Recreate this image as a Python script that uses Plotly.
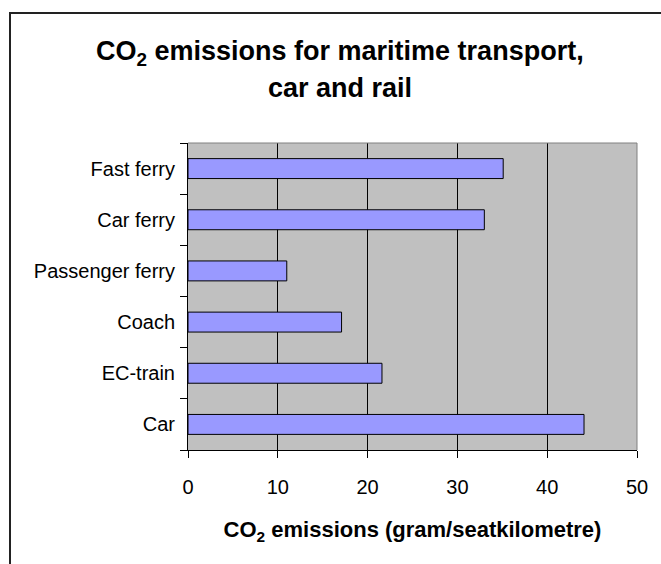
import plotly.graph_objects as go

modes = ["Car", "EC-train", "Coach", "Passenger ferry", "Car ferry", "Fast ferry"]
co2 = [44.1, 21.6, 17.1, 11.0, 33.0, 35.1]
x_ticks = [0, 10, 20, 30, 40, 50]

W, H = 661, 564
L, R, T, B = 188, 24, 143, 114
pw, ph = W - L - R, H - T - B


def px_x(p):
    return (p - L) / pw


def px_y(p):
    return (H - B - p) / ph


font = "Liberation Sans, Arial, sans-serif"

fig = go.Figure()
fig.add_trace(go.Bar(
    x=co2, y=modes, orientation="h",
    marker=dict(color="#9999FF", line=dict(color="black", width=1)),
    hoverinfo="x+y",
))

fig.update_layout(
    width=W, height=H,
    margin=dict(l=L, r=R, t=T, b=B),
    paper_bgcolor="white",
    plot_bgcolor="#C0C0C0",
    bargap=0.61,
    showlegend=False,
    font=dict(family=font, color="black"),
    xaxis=dict(
        range=[0, 50], tickvals=x_ticks, showgrid=True, gridcolor="black", gridwidth=1,
        zeroline=False, showline=True, linecolor="black", linewidth=1,
        ticks="outside", ticklen=7, tickcolor="black",
        tickfont=dict(size=20, family=font), ticklabelstandoff=12,
        title=dict(text="<b>CO<sub>2</sub> emissions (gram/seatkilometre)</b>",
                   font=dict(size=22, family=font), standoff=24),
    ),
    yaxis=dict(
        showgrid=False, zeroline=False, showline=True, linecolor="black", linewidth=1,
        ticks="outside", ticklen=7, tickcolor="black", tickson="boundaries",
        tickfont=dict(size=20, family=font), ticklabelstandoff=8,
    ),
    annotations=[
        dict(text="<b>CO<sub>2</sub> emissions for maritime transport,</b>",
             xref="paper", yref="paper", x=px_x(340), y=px_y(34),
             xanchor="center", yanchor="top", showarrow=False,
             font=dict(size=27, family=font)),
        dict(text="<b>car and rail</b>",
             xref="paper", yref="paper", x=px_x(340), y=px_y(71),
             xanchor="center", yanchor="top", showarrow=False,
             font=dict(size=27, family=font)),
    ],
    shapes=[
        # outer chart frame (runs off the right and bottom of the picture)
        dict(type="rect", xref="paper", yref="paper",
             x0=px_x(10), x1=px_x(720), y0=px_y(620), y1=px_y(13),
             line=dict(color="#222222", width=2)),
        # light frame on top and right of plot area
        dict(type="line", xref="paper", yref="paper", x0=0, x1=1, y0=1, y1=1,
             line=dict(color="#808080", width=1)),
        dict(type="line", xref="paper", yref="paper", x0=1, x1=1, y0=0, y1=1,
             line=dict(color="#808080", width=1)),
    ],
)

fig.write_html("out.html", config={"displayModeBar": False},
               post_script="document.body.style.margin='0';")
